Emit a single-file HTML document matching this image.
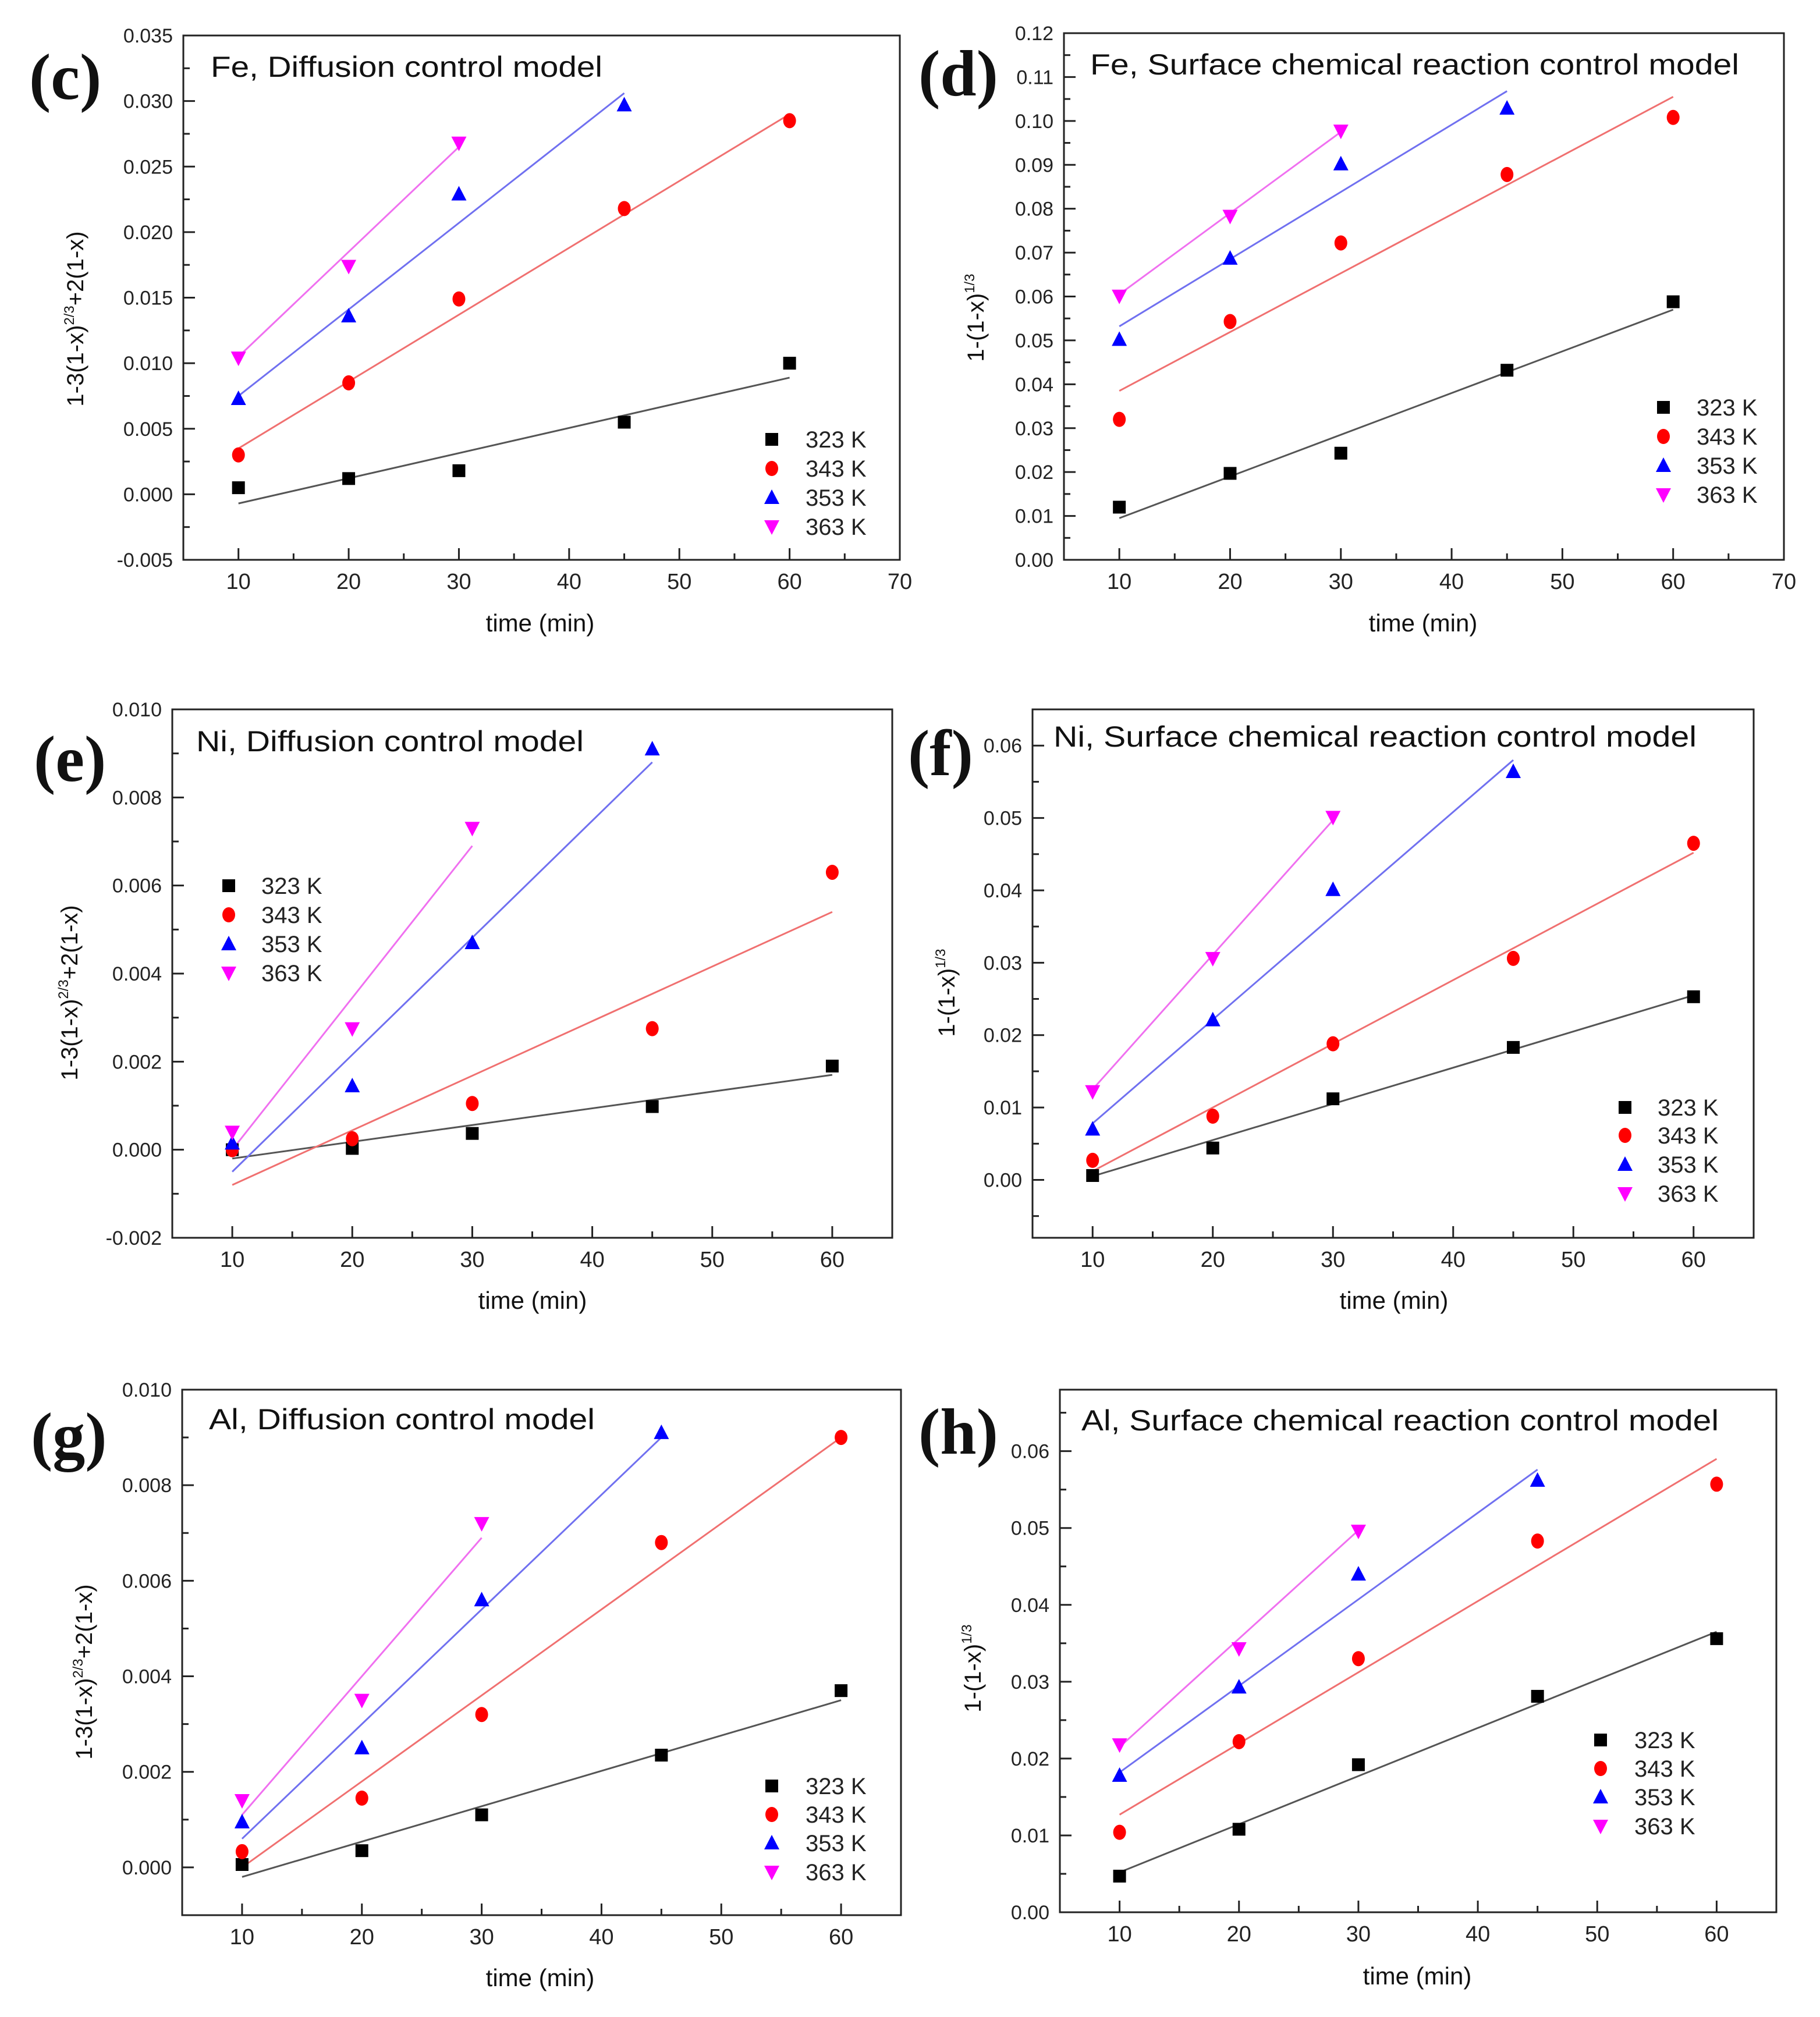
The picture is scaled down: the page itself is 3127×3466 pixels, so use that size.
<!DOCTYPE html>
<html><head><meta charset="utf-8"><style>
html,body{margin:0;padding:0;background:#fff;}
svg{display:block;font-family:"Liberation Sans",Arial,sans-serif;}
</style></head><body>
<svg id="fig" width="3127" height="3466" viewBox="0 0 3127 3466" xmlns="http://www.w3.org/2000/svg">
<rect x="0" y="0" width="3127" height="3466" fill="#ffffff"/>
</svg>
<script>
const t5 = [10,20,30,45,60];
const t4 = [10,20,30,45];
const t3 = [10,20,30];
const seriesNames = ["323 K","343 K","353 K","363 K"];
// panel c
const c323 = [0.0005,0.0012,0.0018,0.0055,0.0100];
const c343 = [0.0030,0.0085,0.0149,0.0218,0.0285];
const c353 = [0.0073,0.0136,0.0229,0.0297];
const c363 = [0.0104,0.0174,0.0268];
const cFit = [[-0.0007,0.0089],[0.0035,0.0290],[0.0075,0.0306],[0.0105,0.0265]];
// panel d
const d323 = [0.012,0.0197,0.0243,0.0432,0.0588];
const d343 = [0.032,0.0543,0.0722,0.0878,0.1008];
const d353 = [0.0502,0.0687,0.0902,0.1029];
const d363 = [0.0601,0.0783,0.0977];
const dFit = [[0.0095,0.057],[0.0385,0.1055],[0.0532,0.1068],[0.0605,0.0975]];
// panel e
const e323 = [0.0000,0.00003,0.00037,0.00098,0.0019];
const e343 = [0.0000,0.00025,0.00105,0.00275,0.0063];
const e353 = [0.00015,0.00145,0.0047,0.0091];
const e363 = [0.0004,0.00275,0.0073];
const eFit = [[-0.0002,0.0017],[-0.0008,0.0054],[-0.0005,0.0088],[0.0000,0.0069]];
// panel f
const f323 = [0.0006,0.0044,0.0112,0.0183,0.0253];
const f343 = [0.0027,0.0088,0.0188,0.0306,0.0465];
const f353 = [0.007,0.0221,0.0401,0.0564];
const f363 = [0.0122,0.0306,0.0501];
const fFit = [[0.0005,0.0255],[0.0012,0.0452],[0.0078,0.058],[0.0125,0.0497]];
// panel g
const g323 = [0.00006,0.00035,0.0011,0.00235,0.0037];
const g343 = [0.00033,0.00145,0.0032,0.0068,0.0090];
const g353 = [0.00095,0.0025,0.0056,0.0091];
const g363 = [0.0014,0.0035,0.0072];
const gFit = [[-0.0002,0.0035],[0.0000,0.0090],[0.0006,0.0090],[0.0011,0.0069]];
// panel h
const h323 = [0.0047,0.0108,0.0192,0.0281,0.0356];
const h343 = [0.0104,0.0222,0.0330,0.0483,0.0557];
const h353 = [0.0178,0.0293,0.0440,0.0562];
const h363 = [0.0218,0.0343,0.0496];
const hFit = [[0.0052,0.0365],[0.0127,0.059],[0.0182,0.0576],[0.0215,0.0497]];

const NS = "http://www.w3.org/2000/svg";
const svg = document.getElementById('fig');
function mk(tag, attrs, parent){
  const e = document.createElementNS(NS, tag);
  for (const k in attrs) e.setAttribute(k, attrs[k]);
  (parent||svg).appendChild(e);
  return e;
}
const markColors = ["#000000","#ff0000","#0000ff","#ff00ff"];
const lineColors = ["#555555","#f07070","#7070f0","#f070f0"];

function marker(g, kind, x, y, col){
  let m;
  if (kind===0) m = mk('rect',{x:x-11,y:y-11,width:22,height:22,fill:col},g);
  else if (kind===1) m = mk('ellipse',{cx:x,cy:y,rx:11,ry:13,fill:col},g);
  else if (kind===2) m = mk('polygon',{points:`${x},${y-14} ${x+13},${y+11} ${x-13},${y+11}`,fill:col},g);
  else m = mk('polygon',{points:`${x},${y+14} ${x+13},${y-11} ${x-13},${y-11}`,fill:col},g);
  return m;
}

const panels = [
 {id:'c', L:315,R:1546,T:61,B:962, xmin:5,xmax:70, ymin:-0.005,ymax:0.035, ystep:0.005, ydec:3, ytick0:-0.005, ytick1:0.035, xt1:70,
  data:[c323,c343,c353,c363], fit:cFit, title:"Fe, Diffusion control model", titleX:362,titleY:132,titleW:673,
  letter:"(c)", lx:50, ly:170, ytitle:'diff', ytx:143, yty:548, xtx:928, xty:1085, legX:1326, legTX:1384, legY:[755,805,855,905]},
 {id:'d', L:1828,R:3065,T:57,B:962, xmin:5,xmax:70, ymin:0,ymax:0.12, ystep:0.01, ydec:2, ytick0:0, ytick1:0.12, xt1:70,
  data:[d323,d343,d353,d363], fit:dFit, title:"Fe, Surface chemical reaction control model", titleX:1873,titleY:128,titleW:1115,
  letter:"(d)", lx:1578, ly:164, ytitle:'surf', ytx:1690, yty:546, xtx:2445, xty:1085, legX:2858, legTX:2915, legY:[700,750,800,850]},
 {id:'e', L:296,R:1533,T:1219,B:2127, xmin:5,xmax:65, ymin:-0.002,ymax:0.010, ystep:0.002, ydec:3, ytick0:-0.002, ytick1:0.010, xt1:60,
  data:[e323,e343,e353,e363], fit:eFit, title:"Ni, Diffusion control model", titleX:337,titleY:1291,titleW:666,
  letter:"(e)", lx:58, ly:1342, ytitle:'diff', ytx:133, yty:1706, xtx:915, xty:2249, legX:393, legTX:449, legY:[1522,1572,1622,1672]},
 {id:'f', L:1774,R:3013,T:1219,B:2127, xmin:5,xmax:65, ymin:-0.008,ymax:0.065, ystep:0.01, ydec:2, ytick0:0, ytick1:0.06, xt1:60,
  data:[f323,f343,f353,f363], fit:fFit, title:"Ni, Surface chemical reaction control model", titleX:1810,titleY:1283,titleW:1105,
  letter:"(f)", lx:1560, ly:1332, ytitle:'surf', ytx:1640, yty:1706, xtx:2395, xty:2249, legX:2792, legTX:2848, legY:[1903,1951,2001,2051]},
 {id:'g', L:313,R:1548,T:2388,B:3291, xmin:5,xmax:65, ymin:-0.001,ymax:0.010, ystep:0.002, ydec:3, ytick0:0, ytick1:0.010, xt1:60,
  data:[g323,g343,g353,g363], fit:gFit, title:"Al, Diffusion control model", titleX:359,titleY:2456,titleW:663,
  letter:"(g)", lx:53, ly:2505, ytitle:'diff', ytx:158, yty:2873, xtx:928, xty:3413, legX:1326, legTX:1384, legY:[3069,3118,3167,3217]},
 {id:'h', L:1821,R:3052,T:2388,B:3286, xmin:5,xmax:65, ymin:0,ymax:0.068, ystep:0.01, ydec:2, ytick0:0, ytick1:0.06, xt1:60,
  data:[h323,h343,h353,h363], fit:hFit, title:"Al, Surface chemical reaction control model", titleX:1858,titleY:2458,titleW:1095,
  letter:"(h)", lx:1578, ly:2498, ytitle:'surf', ytx:1685, yty:2867, xtx:2435, xty:3410, legX:2750, legTX:2808, legY:[2990,3039,3088,3138]}
];
const times = [t5,t5,t4,t3];

panels.forEach(p=>{
  const g = mk('g',{});
  
  
  const sx = v => p.L + (v-p.xmin)/(p.xmax-p.xmin)*(p.R-p.L);
  const sy = v => p.B - (v-p.ymin)/(p.ymax-p.ymin)*(p.B-p.T);
  // frame
  const fr = mk('rect',{x:p.L,y:p.T,width:p.R-p.L,height:p.B-p.T,fill:'none',stroke:'#222',"stroke-width":3},g);
  
  
  // x ticks
  const xa = mk('g',{},g);
  
  
  for (let v=10; v<=p.xmax+0.01; v+=5){
    const major = (v%10===0);
    const x = sx(v);
    mk('line',{x1:x,y1:p.B,x2:x,y2:p.B-(major?20:11),stroke:'#222',"stroke-width":3},xa);
    if (major && v<=p.xt1){
      const t = mk('text',{x:x,y:p.B+50,"font-size":38,"text-anchor":"middle",fill:'#222'},xa);
      t.textContent = v;
    }
  }
  const ya = mk('g',{},g);
  
  
  const half = p.ystep/2;
  const nMin = Math.ceil((p.ymin-1e-9)/half), nMax = Math.floor((p.ymax+1e-9)/half);
  for (let n=nMin; n<=nMax; n++){
    const v = n*half;
    const y = sy(v);
    const major = (n%2===0);
    if (y < p.T+1 && !major) continue;
    mk('line',{x1:p.L,y1:y,x2:p.L+(major?20:11),y2:y,stroke:'#222',"stroke-width":3},ya);
    if (major && v>=p.ytick0-1e-9 && v<=p.ytick1+1e-9){
      const t = mk('text',{x:p.L-18,y:y+12,"font-size":34,"text-anchor":"end",fill:'#222'},ya);
      t.textContent = (Math.abs(v)<1e-12?0:v).toFixed(p.ydec);
    }
  }
  // fit lines
  p.fit.forEach((f,i)=>{
    const tt = times[i];
    const ln = mk('line',{x1:sx(tt[0]),y1:sy(f[0]),x2:sx(tt[tt.length-1]),y2:sy(f[1]),stroke:lineColors[i],"stroke-width":3},g);
    
    
  });
  // markers
  p.data.forEach((arr,i)=>{
    const sg = mk('g',{},g);
    
    
    arr.forEach((v,j)=>{
      const m = marker(sg, i, sx(times[i][j]), sy(v), markColors[i]);
      
      
    });
  });
  // legend
  const lg = mk('g',{},g);
  
  
  seriesNames.forEach((s,i)=>{
    const m = marker(lg, i, p.legX, p.legY[i], markColors[i]);
    
    
    const t = mk('text',{x:p.legTX,y:p.legY[i]+14,"font-size":40,fill:'#222'},lg);
    
    
    t.textContent = s;
  });
  // title
  const tt = mk('text',{x:p.titleX,y:p.titleY,"font-size":50,fill:'#111',textLength:p.titleW,lengthAdjust:'spacingAndGlyphs'},g);
  
  
  tt.textContent = p.title;
  // letter
  const lt = mk('text',{x:p.lx,y:p.ly,"font-size":112,"font-weight":"bold","font-family":"Liberation Serif, serif",fill:'#111'},g);
  
  
  lt.textContent = p.letter;
  // x title
  const xt = mk('text',{x:p.xtx,y:p.xty,"font-size":42,"text-anchor":"middle",fill:'#111'},g);
  
  
  xt.textContent = 'time (min)';
  // y title
  const yt = mk('text',{x:0,y:0,"font-size":40,"text-anchor":"middle",fill:'#111',transform:`translate(${p.ytx},${p.yty}) rotate(-90)`},g);
  
  
  if (p.ytitle==='diff'){
    yt.innerHTML = '1-3(1-x)<tspan dy="-16" font-size="24">2/3</tspan><tspan dy="16">+2(1-x)</tspan>';
  } else {
    yt.innerHTML = '1-(1-x)<tspan dy="-16" font-size="24">1/3</tspan>';
  }
});
</script>
</body></html>
